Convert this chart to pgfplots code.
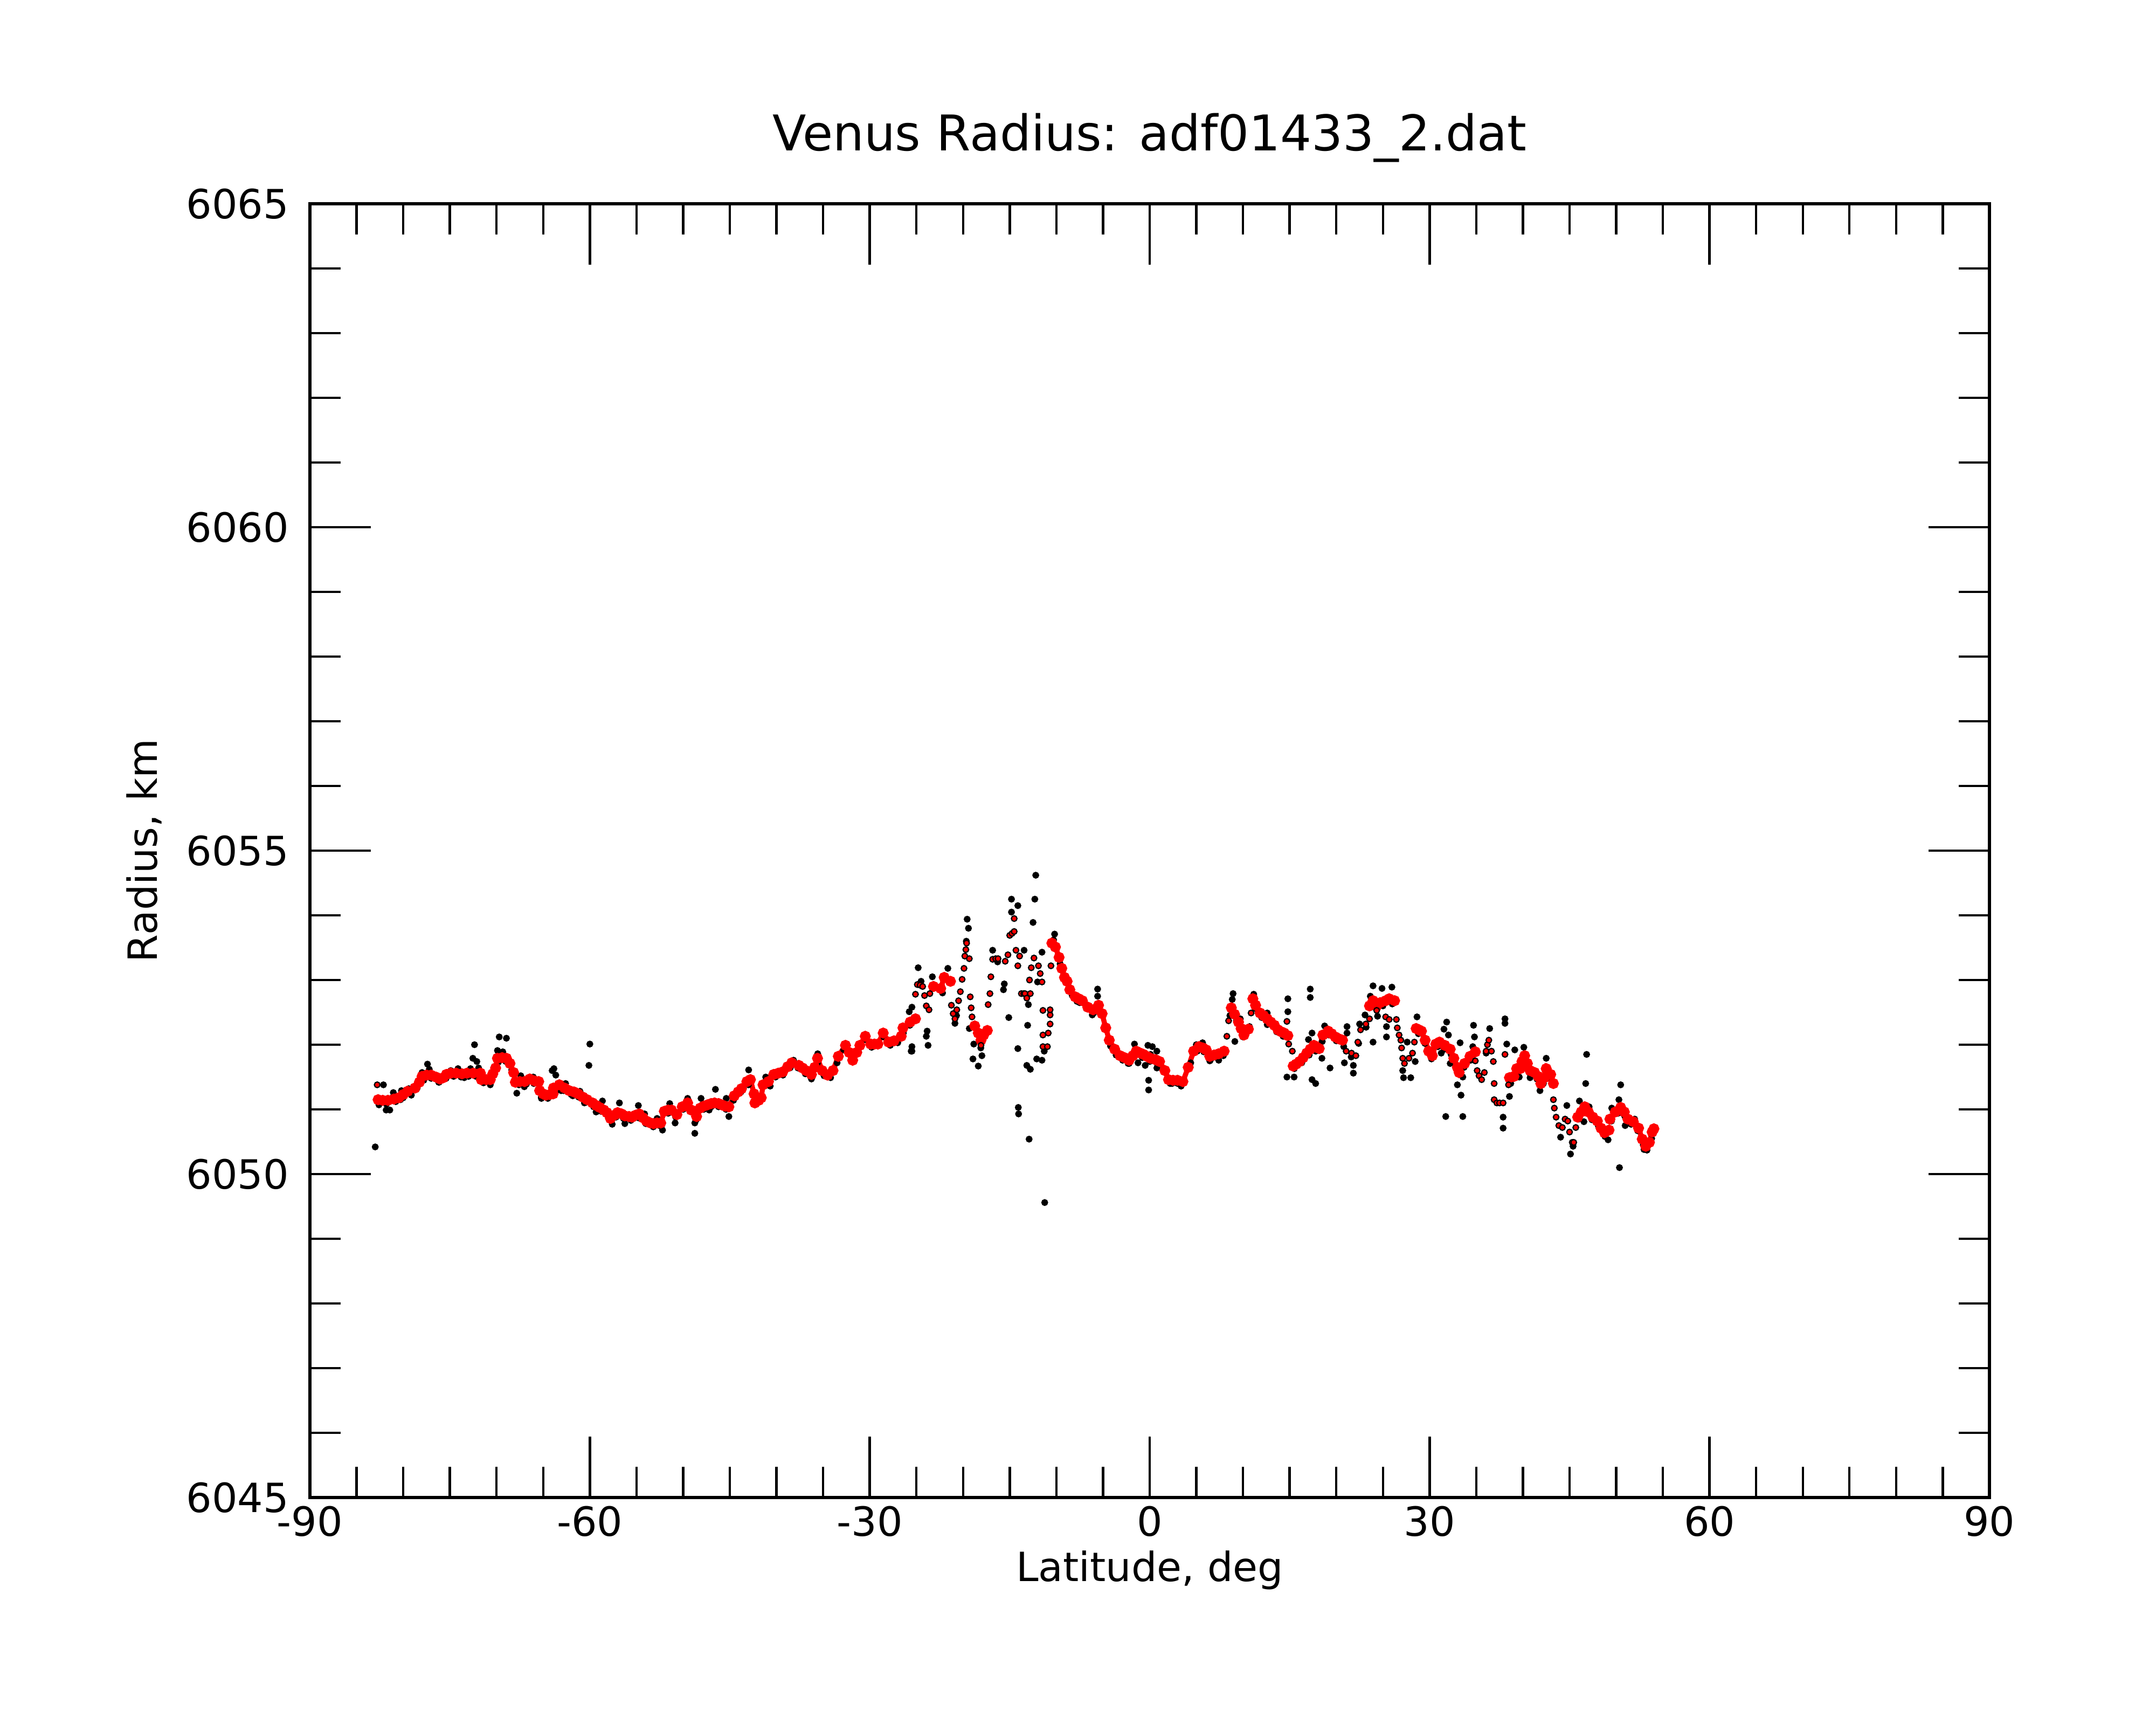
\documentclass[border=0pt]{standalone}
\usepackage{pgfplots}
\pgfplotsset{compat=1.18}
\usepackage{pgfplotstable}
\usepackage{fontspec}
\setmainfont{DejaVu Sans}

% smooth red segments (nan rows break the line)
\pgfplotstableread{
lat r
-82.69 6051.15
-82.2 6051.14
-81.64 6051.14
-81.0 6051.16
-80.48 6051.18
-80.0 6051.23
-79.52 6051.28
-78.75 6051.33
-78.27 6051.42
-77.98 6051.51
-77.5 6051.53
-77.02 6051.53
-76.5 6051.50
-76.06 6051.47
-75.7 6051.49
-75.38 6051.54
-74.9 6051.56
-74.33 6051.56
-73.7 6051.55
-73.17 6051.56
-72.5 6051.56
-71.73 6051.56
-71.63 6051.46
-71.1 6051.46
-70.67 6051.46
-70.4 6051.55
-70.1 6051.64
-69.9 6051.79
-69.4 6051.80
-68.94 6051.79
-68.56 6051.71
-68.17 6051.57
-67.98 6051.42
-67.5 6051.43
-67.0 6051.43
-66.44 6051.47
-65.9 6051.44
-65.48 6051.43
-65.38 6051.29
-65.0 6051.24
-64.71 6051.22
-64.3 6051.23
-63.94 6051.24
-63.9 6051.33
-63.27 6051.38
-62.7 6051.33
-62.21 6051.29
-61.7 6051.27
-61.25 6051.24
-60.75 6051.19
-60.29 6051.15
-59.71 6051.10
-59.3 6051.06
-58.94 6051.03
-58.5 6050.99
-58.17 6050.95
-57.79 6050.86
-57.4 6050.91
-57.02 6050.95
-56.6 6050.93
-56.25 6050.90
-55.8 6050.89
-55.48 6050.88
-55.1 6050.91
-54.71 6050.93
-54.3 6050.87
-53.94 6050.82
-53.5 6050.79
-53.17 6050.78
-52.8 6050.79
-52.4 6050.79
-52.02 6050.97
-51.6 6050.99
-51.25 6050.99
-50.67 6050.92
-50.1 6051.04
-49.52 6051.10
-49.13 6050.99
-48.56 6050.89
-48.17 6051.02
-47.8 6051.05
-47.4 6051.07
-47.0 6051.09
-46.63 6051.10
-46.2 6051.09
-45.86 6051.07
-45.5 6051.05
-45.1 6051.04
-44.52 6051.21
-44.1 6051.27
-43.75 6051.32
-43.17 6051.43
-42.79 6051.46
-42.4 6051.24
-42.31 6051.10
-41.9 6051.14
-41.63 6051.18
-41.44 6051.38
-40.86 6051.43
-40.29 6051.54
-39.8 6051.56
-39.33 6051.58
-38.8 6051.66
-38.36 6051.72
-37.6 6051.68
-37.2 6051.64
-36.83 6051.60
-36.25 6051.54
-35.9 6051.65
-35.6 6051.79
-35.1 6051.60
-34.52 6051.53
-33.94 6051.60
-33.37 6051.82
-32.6 6051.99
-32.2 6051.88
-31.83 6051.76
-31.4 6051.88
-31.06 6051.99
-30.48 6052.13
-29.9 6052.01
-29.5 6052.01
-29.13 6052.01
-28.56 6052.18
-27.98 6052.04
-27.4 6052.06
-26.63 6052.13
-26.44 6052.26
-25.67 6052.35
-25.1 6052.40
nan nan
-23.17 6052.90
-22.4 6052.87
-22.02 6053.04
-21.35 6052.98
nan nan
-18.75 6052.29
-18.37 6052.18
-18.08 6052.07
-17.79 6052.15
-17.4 6052.22
nan nan
-10.48 6053.57
-10.1 6053.51
-9.71 6053.35
-9.42 6053.18
-9.13 6053.04
-8.85 6052.98
-8.56 6052.85
-7.98 6052.74
-7.6 6052.71
-7.21 6052.68
-6.63 6052.58
-6.06 6052.54
-5.48 6052.61
-5.1 6052.48
-4.71 6052.26
-4.33 6052.07
-3.75 6051.93
-3.17 6051.83
-2.7 6051.80
-2.21 6051.76
-1.8 6051.83
-1.44 6051.90
-1.0 6051.87
-0.67 6051.85
-0.3 6051.82
0.1 6051.79
0.6 6051.77
1.06 6051.74
1.63 6051.60
2.02 6051.46
2.5 6051.45
2.98 6051.45
3.56 6051.43
4.13 6051.65
4.71 6051.90
5.29 6051.97
5.7 6051.95
6.06 6051.92
6.44 6051.82
6.9 6051.84
7.4 6051.86
7.98 6051.90
nan nan
8.75 6052.57
9.1 6052.47
9.52 6052.35
9.8 6052.25
10.1 6052.15
10.58 6052.24
nan nan
11.06 6052.71
11.35 6052.61
11.83 6052.49
12.2 6052.45
12.6 6052.40
12.98 6052.35
13.37 6052.30
13.75 6052.23
14.1 6052.20
14.42 6052.18
14.81 6052.14
nan nan
15.38 6051.67
15.7 6051.70
16.06 6051.74
16.45 6051.80
16.83 6051.87
17.2 6051.93
17.6 6051.99
17.9 6051.96
18.17 6051.94
18.56 6052.15
19.13 6052.21
19.5 6052.17
19.9 6052.12
20.3 6052.09
20.67 6052.07
nan nan
23.56 6052.60
23.94 6052.68
24.33 6052.60
24.71 6052.65
25.29 6052.68
25.67 6052.71
26.25 6052.68
nan nan
28.56 6052.25
28.85 6052.23
29.13 6052.21
29.52 6052.07
29.9 6051.90
30.29 6051.83
30.67 6052.01
31.06 6052.04
31.63 6051.99
32.21 6051.93
32.6 6051.79
32.98 6051.65
33.17 6051.57
33.75 6051.71
34.33 6051.82
34.9 6051.89
nan nan
38.56 6051.49
39.04 6051.51
39.33 6051.63
39.71 6051.63
39.9 6051.74
40.19 6051.83
40.48 6051.71
40.77 6051.60
41.25 6051.57
41.63 6051.51
41.92 6051.40
42.31 6051.49
42.5 6051.63
42.98 6051.54
43.27 6051.40
nan nan
45.87 6050.88
46.25 6050.96
46.63 6051.04
47.02 6050.96
47.5 6050.88
47.98 6050.82
48.37 6050.71
48.75 6050.64
49.23 6050.68
nan nan
49.33 6050.85
49.9 6050.96
50.48 6051.03
50.87 6050.96
51.25 6050.85
51.83 6050.81
52.4 6050.71
52.79 6050.54
53.17 6050.43
53.56 6050.49
53.85 6050.65
54.04 6050.70
}\redline

% scattered red points
\pgfplotstableread{
lat r
-82.79 6051.38
-25.1 6052.78
-24.9 6052.93
-24.6 6052.92
-24.33 6052.90
-24.13 6052.76
-23.94 6052.60
-23.65 6052.54
-23.56 6052.79
-21.25 6052.61
-21.06 6052.48
-20.87 6052.40
-20.67 6052.54
-20.48 6052.68
-20.29 6052.82
-20.1 6053.01
-19.9 6053.18
-19.81 6053.37
-19.7 6053.47
-19.62 6053.57
-19.33 6053.33
-19.23 6052.74
-19.13 6052.57
-19.04 6052.43
-18.08 6051.99
-17.31 6052.62
-17.12 6052.79
-17.02 6053.05
-16.83 6053.32
-16.5 6053.33
-16.25 6053.33
-15.48 6053.29
-15.19 6053.39
-15.0 6053.69
-14.75 6053.72
-14.52 6053.75
-14.52 6053.95
-14.33 6053.46
-14.13 6053.22
-13.94 6053.37
-13.75 6052.79
-13.5 6052.79
-13.37 6052.79
-13.17 6052.72
-12.88 6053.00
-12.79 6052.79
-12.69 6053.19
-12.4 6053.34
-11.92 6053.22
-11.73 6053.10
-11.54 6052.97
-11.44 6052.53
-11.44 6052.15
-11.44 6051.97
-10.96 6051.97
-10.87 6052.18
-10.67 6052.32
-10.67 6052.46
-10.67 6052.54
-10.58 6053.22
8.27 6052.13
8.46 6052.37
10.87 6052.49
14.71 6052.36
14.9 6052.01
15.29 6051.90
21.06 6051.90
21.63 6051.87
22.1 6051.83
22.31 6052.04
22.6 6052.23
23.17 6052.32
23.56 6052.40
24.33 6052.53
25.29 6052.43
25.67 6052.39
26.44 6052.39
26.54 6052.26
26.73 6052.15
26.92 6052.07
27.0 6051.95
27.12 6051.79
27.31 6051.71
27.79 6051.79
28.17 6051.87
28.37 6052.04
34.9 6051.75
35.1 6051.60
35.3 6051.52
35.58 6051.46
35.87 6051.57
36.06 6051.90
36.2 6052.00
36.35 6052.07
36.63 6051.90
36.83 6051.74
36.92 6051.40
36.92 6051.15
37.21 6051.10
37.5 6051.10
37.88 6051.10
38.08 6051.85
38.46 6051.38
43.27 6051.15
43.37 6051.02
43.56 6050.88
43.85 6050.75
44.23 6050.72
44.52 6050.85
44.81 6050.82
45.0 6050.65
45.29 6050.49
45.45 6050.49
45.67 6050.72
}\reddots

% black (raw) points
\pgfplotstableread{
lat r
-83.0 6050.42
-82.12 6051.38
-82.6 6051.07
-81.83 6050.99
-81.44 6050.99
-81.06 6051.26
-80.19 6051.29
-80.29 6051.15
-79.42 6051.32
-79.13 6051.22
-77.98 6051.57
-77.4 6051.70
-77.21 6051.62
-76.15 6051.42
-74.9 6051.60
-74.13 6051.63
-73.46 6051.49
-72.79 6051.63
-72.36 6052.00
-72.54 6051.79
-72.11 6051.74
-71.92 6051.64
-70.67 6051.38
-70.19 6051.65
-69.71 6052.12
-68.94 6052.10
-69.90 6051.91
-69.33 6051.89
-68.37 6051.61
-67.83 6051.25
-67.4 6051.52
-67.02 6051.35
-66.06 6051.50
-65.19 6051.17
-64.71 6051.25
-64.04 6051.60
-63.85 6051.63
-63.65 6051.53
-63.08 6051.29
-62.6 6051.40
-61.83 6051.21
-61.06 6051.28
-60.58 6051.10
-60.0 6052.01
-60.1 6051.68
-58.65 6051.13
-59.33 6050.96
-57.6 6050.77
-56.83 6051.10
-56.25 6050.78
-54.8 6051.06
-54.13 6050.93
-52.79 6050.86
-52.21 6050.68
-51.44 6051.09
-50.86 6050.79
-49.52 6051.17
-48.75 6050.79
-48.75 6050.63
-48.08 6051.17
-47.21 6050.99
-46.54 6051.31
-45.38 6051.17
-45.1 6050.89
-42.98 6051.61
-41.15 6051.50
-40.67 6051.36
-38.56 6051.64
-38.17 6051.76
-36.25 6051.47
-35.58 6051.86
-25.56 6051.90
-24.81 6053.19
-25.48 6052.58
-25.77 6052.51
-25.48 6051.97
-25.48 6051.90
-23.85 6052.21
-23.94 6052.13
-23.75 6051.99
-21.63 6053.18
-23.29 6053.05
-24.5 6052.98
-22.2 6052.80
-19.56 6053.94
-19.42 6053.80
-19.65 6053.60
-20.87 6052.33
-20.7 6052.45
-19.33 6052.25
-18.85 6052.01
-18.94 6051.78
-18.37 6051.67
-17.98 6051.83
-18.1 6051.95
-16.83 6053.46
-16.3 6053.28
-15.58 6052.94
-15.67 6052.85
-15.1 6052.42
-14.81 6054.25
-14.13 6054.15
-14.81 6054.05
-13.46 6053.46
-12.5 6053.89
-12.31 6054.25
-12.21 6054.62
-13.08 6052.30
-14.13 6051.94
-13.17 6051.68
-12.79 6051.62
-12.11 6051.78
-11.54 6051.76
-13.0 6052.62
-12.02 6052.97
-11.54 6053.43
-14.08 6051.03
-14.05 6050.93
-12.92 6050.54
-11.25 6049.56
-11.3 6051.90
-10.19 6053.71
-10.3 6053.62
-5.58 6052.86
-5.58 6052.75
-6.15 6052.46
-7.79 6052.67
-1.63 6052.01
-0.19 6051.99
0.29 6051.97
0.1 6051.85
0.77 6051.90
-1.25 6051.72
-0.48 6051.68
0.77 6051.64
-0.11 6051.45
-0.11 6051.30
-2.31 6051.71
3.37 6051.36
2.4 6051.40
5.0 6052.00
5.67 6052.03
6.44 6051.75
7.4 6051.76
8.94 6052.79
8.85 6052.70
9.13 6052.05
11.15 6052.78
12.6 6052.49
12.6 6052.31
9.71 6052.40
14.81 6052.71
14.81 6052.51
17.21 6052.86
17.21 6052.73
14.71 6051.50
15.48 6051.50
17.4 6051.46
17.79 6051.40
19.33 6051.64
18.46 6051.79
17.4 6052.18
17.02 6052.08
18.75 6052.29
21.15 6052.28
21.15 6052.18
20.87 6051.72
21.83 6051.56
21.83 6051.68
22.5 6052.32
23.08 6052.46
23.94 6052.04
23.94 6052.91
24.9 6052.87
25.96 6052.89
23.65 6052.75
24.42 6052.44
25.38 6052.28
25.38 6052.12
27.12 6051.60
27.21 6051.49
27.98 6051.49
27.6 6052.04
28.65 6052.43
28.46 6051.74
31.83 6052.35
32.02 6052.15
31.54 6052.24
31.25 6051.87
32.21 6051.71
33.27 6052.03
32.98 6051.38
33.37 6051.22
33.56 6051.50
31.73 6050.89
33.56 6050.89
34.71 6052.30
34.81 6052.12
34.63 6051.97
36.44 6052.25
36.06 6051.87
38.08 6052.40
38.08 6052.33
38.27 6052.01
39.13 6051.92
40.1 6051.96
37.88 6050.88
37.88 6050.71
38.56 6051.20
39.61 6051.50
40.77 6051.49
41.83 6051.29
42.5 6051.79
42.98 6051.54
44.04 6050.57
44.71 6051.06
45.1 6050.31
45.38 6050.43
46.06 6051.13
46.73 6051.40
46.83 6051.85
46.54 6050.81
47.1 6051.04
49.13 6050.53
49.52 6051.02
50.29 6051.15
50.48 6051.38
50.35 6050.10
50.96 6050.75
51.98 6050.85
52.98 6050.38
-82.6 6051.08
-81.8 6051.08
-80.8 6051.12
-80.0 6051.18
-79.2 6051.25
-78.5 6051.33
-77.8 6051.45
-77.0 6051.48
-76.2 6051.42
-75.4 6051.48
-74.6 6051.51
-73.8 6051.50
-73.0 6051.51
-72.2 6051.51
-71.4 6051.41
-70.7 6051.41
-69.8 6051.73
-69.0 6051.74
-68.3 6051.56
-67.6 6051.38
-66.8 6051.39
-66.0 6051.40
-65.2 6051.19
-64.5 6051.17
-63.6 6051.29
-62.8 6051.29
-62.0 6051.23
-61.2 6051.19
-60.4 6051.11
-59.6 6051.04
-58.8 6050.97
-58.0 6050.87
-57.2 6050.88
-56.4 6050.86
-55.6 6050.83
-54.8 6050.87
-54.0 6050.78
-53.2 6050.73
-52.4 6050.74
-51.6 6050.94
-50.8 6050.88
-50.0 6051.00
-49.3 6051.01
-48.6 6050.84
-47.8 6051.00
-47.0 6051.04
-46.2 6051.04
-45.4 6051.00
-44.6 6051.14
-43.8 6051.27
-43.0 6051.38
-42.35 6051.12
-41.6 6051.16
-40.9 6051.38
-40.1 6051.50
-39.3 6051.53
-38.5 6051.65
-37.7 6051.64
-36.9 6051.55
-36.2 6051.50
-35.6 6051.72
-34.9 6051.52
-34.2 6051.49
-33.5 6051.72
-32.8 6051.92
-32.0 6051.76
-31.2 6051.89
-30.5 6052.08
-29.8 6051.96
-29.0 6052.00
-28.5 6052.12
-27.8 6051.99
-27.0 6052.03
-26.4 6052.18
-25.7 6052.30
-10.3 6053.50
-9.6 6053.25
-9.0 6052.97
-8.3 6052.76
-7.5 6052.65
-6.8 6052.56
-6.0 6052.49
-5.4 6052.55
-4.8 6052.25
-4.2 6051.98
-3.6 6051.84
-2.9 6051.76
-2.2 6051.71
-1.5 6051.84
-0.8 6051.80
0.0 6051.74
0.8 6051.71
1.5 6051.59
2.2 6051.40
3.0 6051.40
3.7 6051.42
4.4 6051.72
5.1 6051.90
5.8 6051.89
6.5 6051.76
7.2 6051.80
7.9 6051.83
8.6 6052.45
9.3 6052.37
10.0 6052.12
10.7 6052.28
11.3 6052.56
12.0 6052.42
12.8 6052.33
13.6 6052.20
14.3 6052.13
15.5 6051.63
16.3 6051.72
17.1 6051.84
17.8 6051.90
18.5 6052.05
19.2 6052.15
20.0 6052.06
20.8 6051.97
21.6 6051.81
22.4 6052.02
23.2 6052.27
24.0 6052.62
25.0 6052.60
26.0 6052.63
28.8 6052.17
29.5 6052.02
30.2 6051.78
30.9 6051.97
31.6 6051.93
32.3 6051.85
33.0 6051.59
33.7 6051.65
34.4 6051.76
38.7 6051.40
39.4 6051.55
40.1 6051.72
40.8 6051.54
41.5 6051.47
42.2 6051.40
42.9 6051.48
46.0 6050.85
46.7 6050.98
47.4 6050.84
48.1 6050.74
48.8 6050.58
49.5 6050.82
50.2 6050.94
50.9 6050.90
51.6 6050.77
52.3 6050.67
52.9 6050.45
53.3 6050.37
53.8 6050.55
}\blackpts

\begin{document}
\begin{tikzpicture}
\begin{axis}[
  at={(0,0)}, anchor=south west,
  scale only axis, width=7.79in, height=6.0in,
  xmin=-90, xmax=90, ymin=6045, ymax=6065,
  xtick={-90,-60,-30,0,30,60,90},
  xticklabels={-90,-60,-30,0,30,60,90},
  ytick={6045,6050,6055,6060,6065},
  yticklabels={6045,6050,6055,6060,6065},
  minor xtick={-85,-80,...,85},
  minor ytick={6046,6047,...,6064},
  tick align=inside,
  major tick length=0.2825in,
  minor tick length=0.1425in,
  every tick/.style={black, line width=0.8pt},
  axis line style={line width=1pt},
  xticklabel style={anchor=center, inner sep=0pt, yshift=-0.11in},
  yticklabel style={anchor=east, inner sep=0pt, xshift=-0.095in},
  font=\fontsize{13.5}{16}\selectfont,
  clip=false,
]
\addplot[only marks, mark=*, mark size=0.95pt, mark options={draw=none, fill=black}] table[x=lat, y=r] {\blackpts};
\addplot[red, line width=1.7pt, mark=*, mark size=0.95pt, mark options={draw=none, fill=red}, unbounded coords=jump] table[x=lat, y=r] {\redline};
\addplot[only marks, mark=*, mark size=0.95pt, mark options={draw=none, fill=red}] table[x=lat, y=r] {\reddots};
\node[anchor=base, font=\fontsize{16.5}{20}\selectfont] at ([yshift=0.245in]rel axis cs:0.5,1) {Venus Radius: adf01433\_2.dat};
\node[anchor=base] at ([yshift=-0.388in]rel axis cs:0.5,0) {Latitude, deg};
\node[anchor=base, rotate=90] at ([xshift=-0.7075in]rel axis cs:0,0.5) {Radius, km};
\end{axis}
\path (-1.4375in,-1.055in) rectangle (8.5625in,6.945in);
\end{tikzpicture}
\end{document}
